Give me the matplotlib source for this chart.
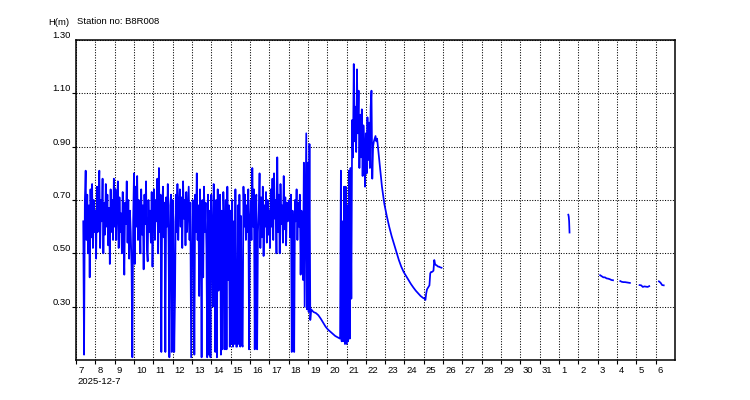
import matplotlib
matplotlib.use("Agg")
import matplotlib.pyplot as plt
import pandas as pd
from matplotlib.transforms import ScaledTranslation

plt.rcParams['font.family'] = ['Liberation Sans', 'DejaVu Sans']

station_text = "Station no: B8R008"
y_unit = "H(m)"
first_date_label = "2025-12-7"
y_ticks = [0.30, 0.50, 0.70, 0.90, 1.10, 1.30]
y_tick_labels = ["0.30", "0.50", "0.70", "0.90", "1.10", "1.30"]
x_start = "2025-12-07"
x_end = "2026-01-07"

# hourly readings (noisy period)
dec07 = [0.62, 0.12, 0.70, 0.81, 0.55, 0.72, 0.50, 0.68, 0.41, 0.74, 0.56, 0.76, 0.52, 0.70, 0.58]
dec08 = [0.66, 0.48, 0.75, 0.58, 0.72, 0.81, 0.52, 0.70, 0.62, 0.78, 0.50, 0.69, 0.57, 0.76, 0.60, 0.72,
         0.53, 0.67, 0.46, 0.74, 0.58, 0.70, 0.55, 0.78]
dec09 = [0.60, 0.74, 0.55, 0.68, 0.77, 0.52, 0.71, 0.58, 0.65, 0.50, 0.73, 0.56, 0.42, 0.69, 0.61, 0.77,
         0.54, 0.70, 0.48, 0.66, 0.58, 0.45, 0.11, 0.62]
dec10 = [0.80, 0.46, 0.75, 0.60, 0.79, 0.55, 0.70, 0.63, 0.50, 0.74, 0.57, 0.68, 0.44, 0.72, 0.61, 0.77,
         0.52, 0.47, 0.70, 0.58, 0.66, 0.54, 0.73, 0.45]
dec11 = [0.64, 0.74, 0.55, 0.70, 0.62, 0.78, 0.50, 0.82, 0.58, 0.72, 0.13, 0.66, 0.75, 0.56, 0.69, 0.13,
         0.71, 0.60, 0.76, 0.54, 0.11, 0.68, 0.72, 0.13]
dec12 = [0.70, 0.62, 0.13, 0.34, 0.72, 0.58, 0.76, 0.55, 0.68, 0.74, 0.60, 0.71, 0.52, 0.77, 0.63, 0.70,
         0.53, 0.73, 0.58, 0.66, 0.75, 0.55, 0.69, 0.11]
dec13 = [0.40, 0.70, 0.62, 0.12, 0.72, 0.58, 0.80, 0.55, 0.68, 0.34, 0.74, 0.60, 0.11, 0.70, 0.41, 0.75,
         0.58, 0.69, 0.52, 0.11, 0.72, 0.12, 0.66, 0.11]
dec14 = [0.72, 0.58, 0.30, 0.76, 0.65, 0.13, 0.70, 0.11, 0.74, 0.36, 0.68, 0.72, 0.12, 0.66, 0.14, 0.73,
         0.60, 0.14, 0.70, 0.14, 0.75, 0.40, 0.68, 0.15]
dec15 = [0.66, 0.16, 0.70, 0.15, 0.62, 0.16, 0.74, 0.15, 0.15, 0.68, 0.16, 0.72, 0.15, 0.64, 0.16, 0.15,
         0.75, 0.60, 0.72, 0.55, 0.68, 0.58, 0.74, 0.14]
dec16 = [0.62, 0.70, 0.55, 0.82, 0.60, 0.74, 0.14, 0.68, 0.72, 0.14, 0.58, 0.66, 0.80, 0.52, 0.71, 0.56,
         0.75, 0.49, 0.68, 0.60, 0.73, 0.54, 0.70, 0.57]
dec17 = [0.66, 0.52, 0.74, 0.60, 0.78, 0.55, 0.80, 0.63, 0.70, 0.50, 0.86, 0.58, 0.72, 0.50, 0.76, 0.61,
         0.68, 0.54, 0.79, 0.59, 0.71, 0.53, 0.69, 0.62]
dec18 = [0.64, 0.70, 0.56, 0.72, 0.13, 0.66, 0.58, 0.13, 0.70, 0.62, 0.74, 0.55, 0.69, 0.60, 0.72, 0.42,
         0.66, 0.58, 0.40, 0.84, 0.30, 0.62, 0.95, 0.29]
dec19 = [0.84, 0.28, 0.91, 0.25, 0.29]
# 3-hourly recession
recess1 = [0.28, 0.276, 0.268, 0.255, 0.24, 0.225, 0.214, 0.206, 0.198, 0.19, 0.185, 0.18]
# hourly second flood
flood2 = [0.81, 0.17, 0.62, 0.17, 0.75, 0.16, 0.75,
          0.16, 0.68, 0.17, 0.81, 0.18, 0.82, 0.33, 1.00, 0.86, 1.21, 0.92, 1.05, 0.88, 1.19, 0.95, 1.11,
          0.82, 1.02, 0.86, 1.04, 0.79, 0.98, 0.90, 0.75,
          0.95, 0.80, 1.01, 0.85, 0.99, 0.82, 1.05, 1.11, 0.78, 0.90, 0.92, 0.93, 0.94, 0.92, 0.93]
# 3-hourly recession
recess2 = [0.84, 0.75, 0.685, 0.64, 0.60, 0.565, 0.535, 0.505, 0.475, 0.45, 0.43, 0.415, 0.40, 0.385,
           0.372, 0.36, 0.35, 0.34, 0.333]
# hourly rise
dec25 = [0.33, 0.325, 0.35, 0.365, 0.37, 0.375, 0.38, 0.425, 0.43, 0.43, 0.432, 0.435, 0.475, 0.46,
         0.456, 0.455, 0.452, 0.45, 0.45, 0.448, 0.447, 0.446]
# January fragments
jan01 = [0.645, 0.638, 0.620, 0.578]
jan03 = [0.418, 0.414, 0.410, 0.410, 0.406, 0.405, 0.403, 0.400, 0.399]
jan04 = [0.396, 0.393, 0.392, 0.392, 0.391, 0.390, 0.389]
jan05 = [0.381, 0.380, 0.374, 0.376, 0.375, 0.374, 0.377]
jan06 = [0.395, 0.390, 0.381, 0.380]

main_parts = [
    ("2025-12-07 09:00", "1h", dec07), ("2025-12-08", "1h", dec08), ("2025-12-09", "1h", dec09),
    ("2025-12-10", "1h", dec10), ("2025-12-11", "1h", dec11), ("2025-12-12", "1h", dec12),
    ("2025-12-13", "1h", dec13), ("2025-12-14", "1h", dec14), ("2025-12-15", "1h", dec15),
    ("2025-12-16", "1h", dec16), ("2025-12-17", "1h", dec17), ("2025-12-18", "1h", dec18),
    ("2025-12-19", "1h", dec19), ("2025-12-19 07:00", "3h", recess1),
    ("2025-12-20 17:00", "1h", flood2), ("2025-12-22 17:00", "3h", recess2),
    ("2025-12-25 01:00", "1h", dec25),
]
jan_parts = [
    ("2026-01-01 11:30", "30min", jan01), ("2026-01-03 03:00", "2h", jan03),
    ("2026-01-04 04:00", "2h", jan04), ("2026-01-05 04:00", "2h", jan05),
    ("2026-01-06 04:00", "2h", jan06),
]


def build(parts):
    series = [pd.Series(v, index=pd.date_range(s, periods=len(v), freq=f)) for s, f, v in parts]
    return pd.concat(series)


fig = plt.figure(figsize=(7.5, 4.0), dpi=100)
W, H = 750, 400
ax = fig.add_axes([76 / W, 1 - 360 / H, 599 / W, 320 / H])

blue = "#0000FF"
main = build(main_parts)
ax.plot(main.index, main.values, color=blue, lw=1.25)
for p in jan_parts:
    s = build([p])
    ax.plot(s.index, s.values, color=blue, lw=1.25)

ax.set_xlim(pd.Timestamp(x_start), pd.Timestamp(x_end))
ax.set_ylim(0.10, 1.30)

day_ticks = pd.date_range(x_start, "2026-01-06", freq="D")
ax.set_xticks(day_ticks)
ax.set_xticklabels([str(d.day) for d in day_ticks])
ax.set_yticks(y_ticks)
ax.set_yticklabels(y_tick_labels)

fs = 6.8
ax.tick_params(axis="x", direction="out", length=3, width=0.8, pad=1.5, labelsize=fs, colors="black")
ax.tick_params(axis="y", direction="out", length=3, width=0.8, pad=0.5, labelsize=fs, colors="black")
shift = ScaledTranslation(2 / 100, 0, fig.dpi_scale_trans)
for lab in ax.get_xticklabels():
    lab.set_ha("left")
    lab.set_transform(lab.get_transform() + shift)
for lab in ax.get_yticklabels():
    lab.set_va("bottom")
ax.yaxis.get_major_ticks()[-1].tick1line.set_visible(False)

ax.grid(True, color="black", linestyle=(0, (1, 1.5)), linewidth=0.75)
ax.set_axisbelow(True)
for sp in ax.spines.values():
    sp.set_linewidth(1.1)
    sp.set_color("black")

fig.text(77 / W, 1 - 24 / H, station_text, fontsize=fs, va="baseline", ha="left")
fig.text(48 / W, 1 - 25 / H, y_unit, fontsize=fs, va="baseline", ha="left")
fig.text(77 / W, 1 - 384 / H, first_date_label, fontsize=fs, va="baseline", ha="left")

fig.savefig("out.png", dpi=100)
